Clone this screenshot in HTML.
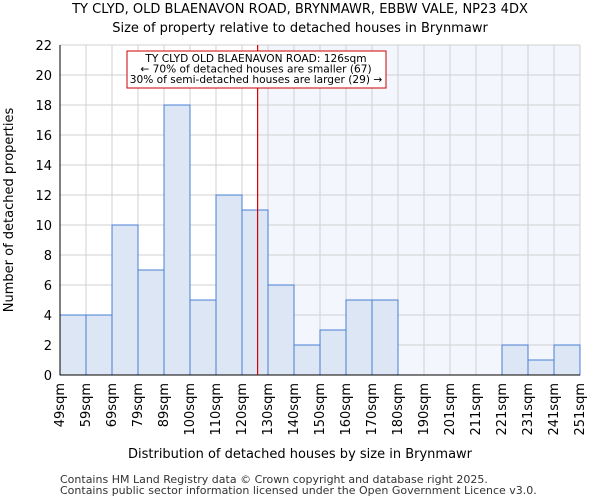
<!DOCTYPE html>
<html><head><meta charset="utf-8"><style>
body{margin:0;background:#fff;font-family:"DejaVu Sans","Liberation Sans",sans-serif}
</style></head><body>
<svg id="c" width="600" height="500" xmlns="http://www.w3.org/2000/svg" font-family="DejaVu Sans, Liberation Sans, sans-serif">
<text x="300" y="13" text-anchor="middle" font-size="13">TY CLYD, OLD BLAENAVON ROAD, BRYNMAWR, EBBW VALE, NP23 4DX</text>
<text x="300" y="32" text-anchor="middle" font-size="13">Size of property relative to detached houses in Brynmawr</text>
<g id="plot"></g>
<text x="300" y="458" text-anchor="middle" font-size="13">Distribution of detached houses by size in Brynmawr</text>
<text transform="translate(13,210) rotate(-90)" text-anchor="middle" font-size="13">Number of detached properties</text>
<text x="60" y="483" font-size="11" fill="#333">Contains HM Land Registry data © Crown copyright and database right 2025.</text>
<text x="60" y="494" font-size="11" fill="#333">Contains public sector information licensed under the Open Government Licence v3.0.</text>
</svg>
<script>
const binLabels=["49sqm","59sqm","69sqm","79sqm","89sqm","100sqm","110sqm","120sqm","130sqm","140sqm","150sqm","160sqm","170sqm","180sqm","190sqm","201sqm","211sqm","221sqm","231sqm","241sqm","251sqm"];
const counts=[4,4,10,7,18,5,12,11,6,2,3,5,5,0,0,0,0,2,1,2];
const yTicks=[0,2,4,6,8,10,12,14,16,18,20,22];
const propertyBinPos=7.6;
const NS="http://www.w3.org/2000/svg";
const L=60,R=580,T=45,B=375,yMax=22;
const bw=(R-L)/counts.length;
const x=i=>L+i*bw;
const y=v=>B-(v/yMax)*(B-T);
const g=document.getElementById('plot');
function mk(t,a){const e=document.createElementNS(NS,t);for(const k in a)e.setAttribute(k,a[k]);g.appendChild(e);return e;}
let e;
e=mk('rect',{x:L,y:T,width:R-L,height:B-T,fill:'#fff'});


const px=x(propertyBinPos);
e=mk('rect',{x:px,y:T,width:R-px,height:B-T,fill:'#f3f6fc'});


yTicks.forEach(v=>{
 e=mk('line',{x1:L,x2:R,y1:y(v),y2:y(v),stroke:'#d0d0d0','stroke-width':1});
 
 
 e=mk('text',{x:L-8,y:y(v)+5,'text-anchor':'end','font-size':13});
 e.textContent=v;
 
 
});
binLabels.forEach((lb,i)=>{
 e=mk('line',{x1:x(i),x2:x(i),y1:T,y2:B,stroke:'#d0d0d0','stroke-width':1});
 
 
 e=mk('text',{transform:`translate(${x(i)+4},${B+8}) rotate(-90)`,'text-anchor':'end','font-size':13});
 e.textContent=lb;
 
 
});
counts.forEach((c,i)=>{
 if(c<=0)return;
 e=mk('rect',{x:x(i),y:y(c),width:bw,height:B-y(c),fill:'#dce6f5',stroke:'#4a7fd4','stroke-width':1});
 
 
});
e=mk('line',{x1:L,x2:R,y1:B,y2:B,stroke:'#000'});


e=mk('line',{x1:L,x2:L,y1:T,y2:B,stroke:'#000'});


e=mk('line',{x1:px,x2:px,y1:T,y2:B,stroke:'#dd0000','stroke-width':1.2});


e=mk('rect',{x:127,y:51,width:259,height:37,fill:'#fff',stroke:'#cc0000','stroke-width':1});


["TY CLYD OLD BLAENAVON ROAD: 126sqm","← 70% of detached houses are smaller (67)","30% of semi-detached houses are larger (29) →"].forEach((t,i)=>{
 e=mk('text',{x:256,y:62+i*10.5,'text-anchor':'middle','font-size':10.6});
 e.textContent=t;
 
 
});
</script>
</body></html>
